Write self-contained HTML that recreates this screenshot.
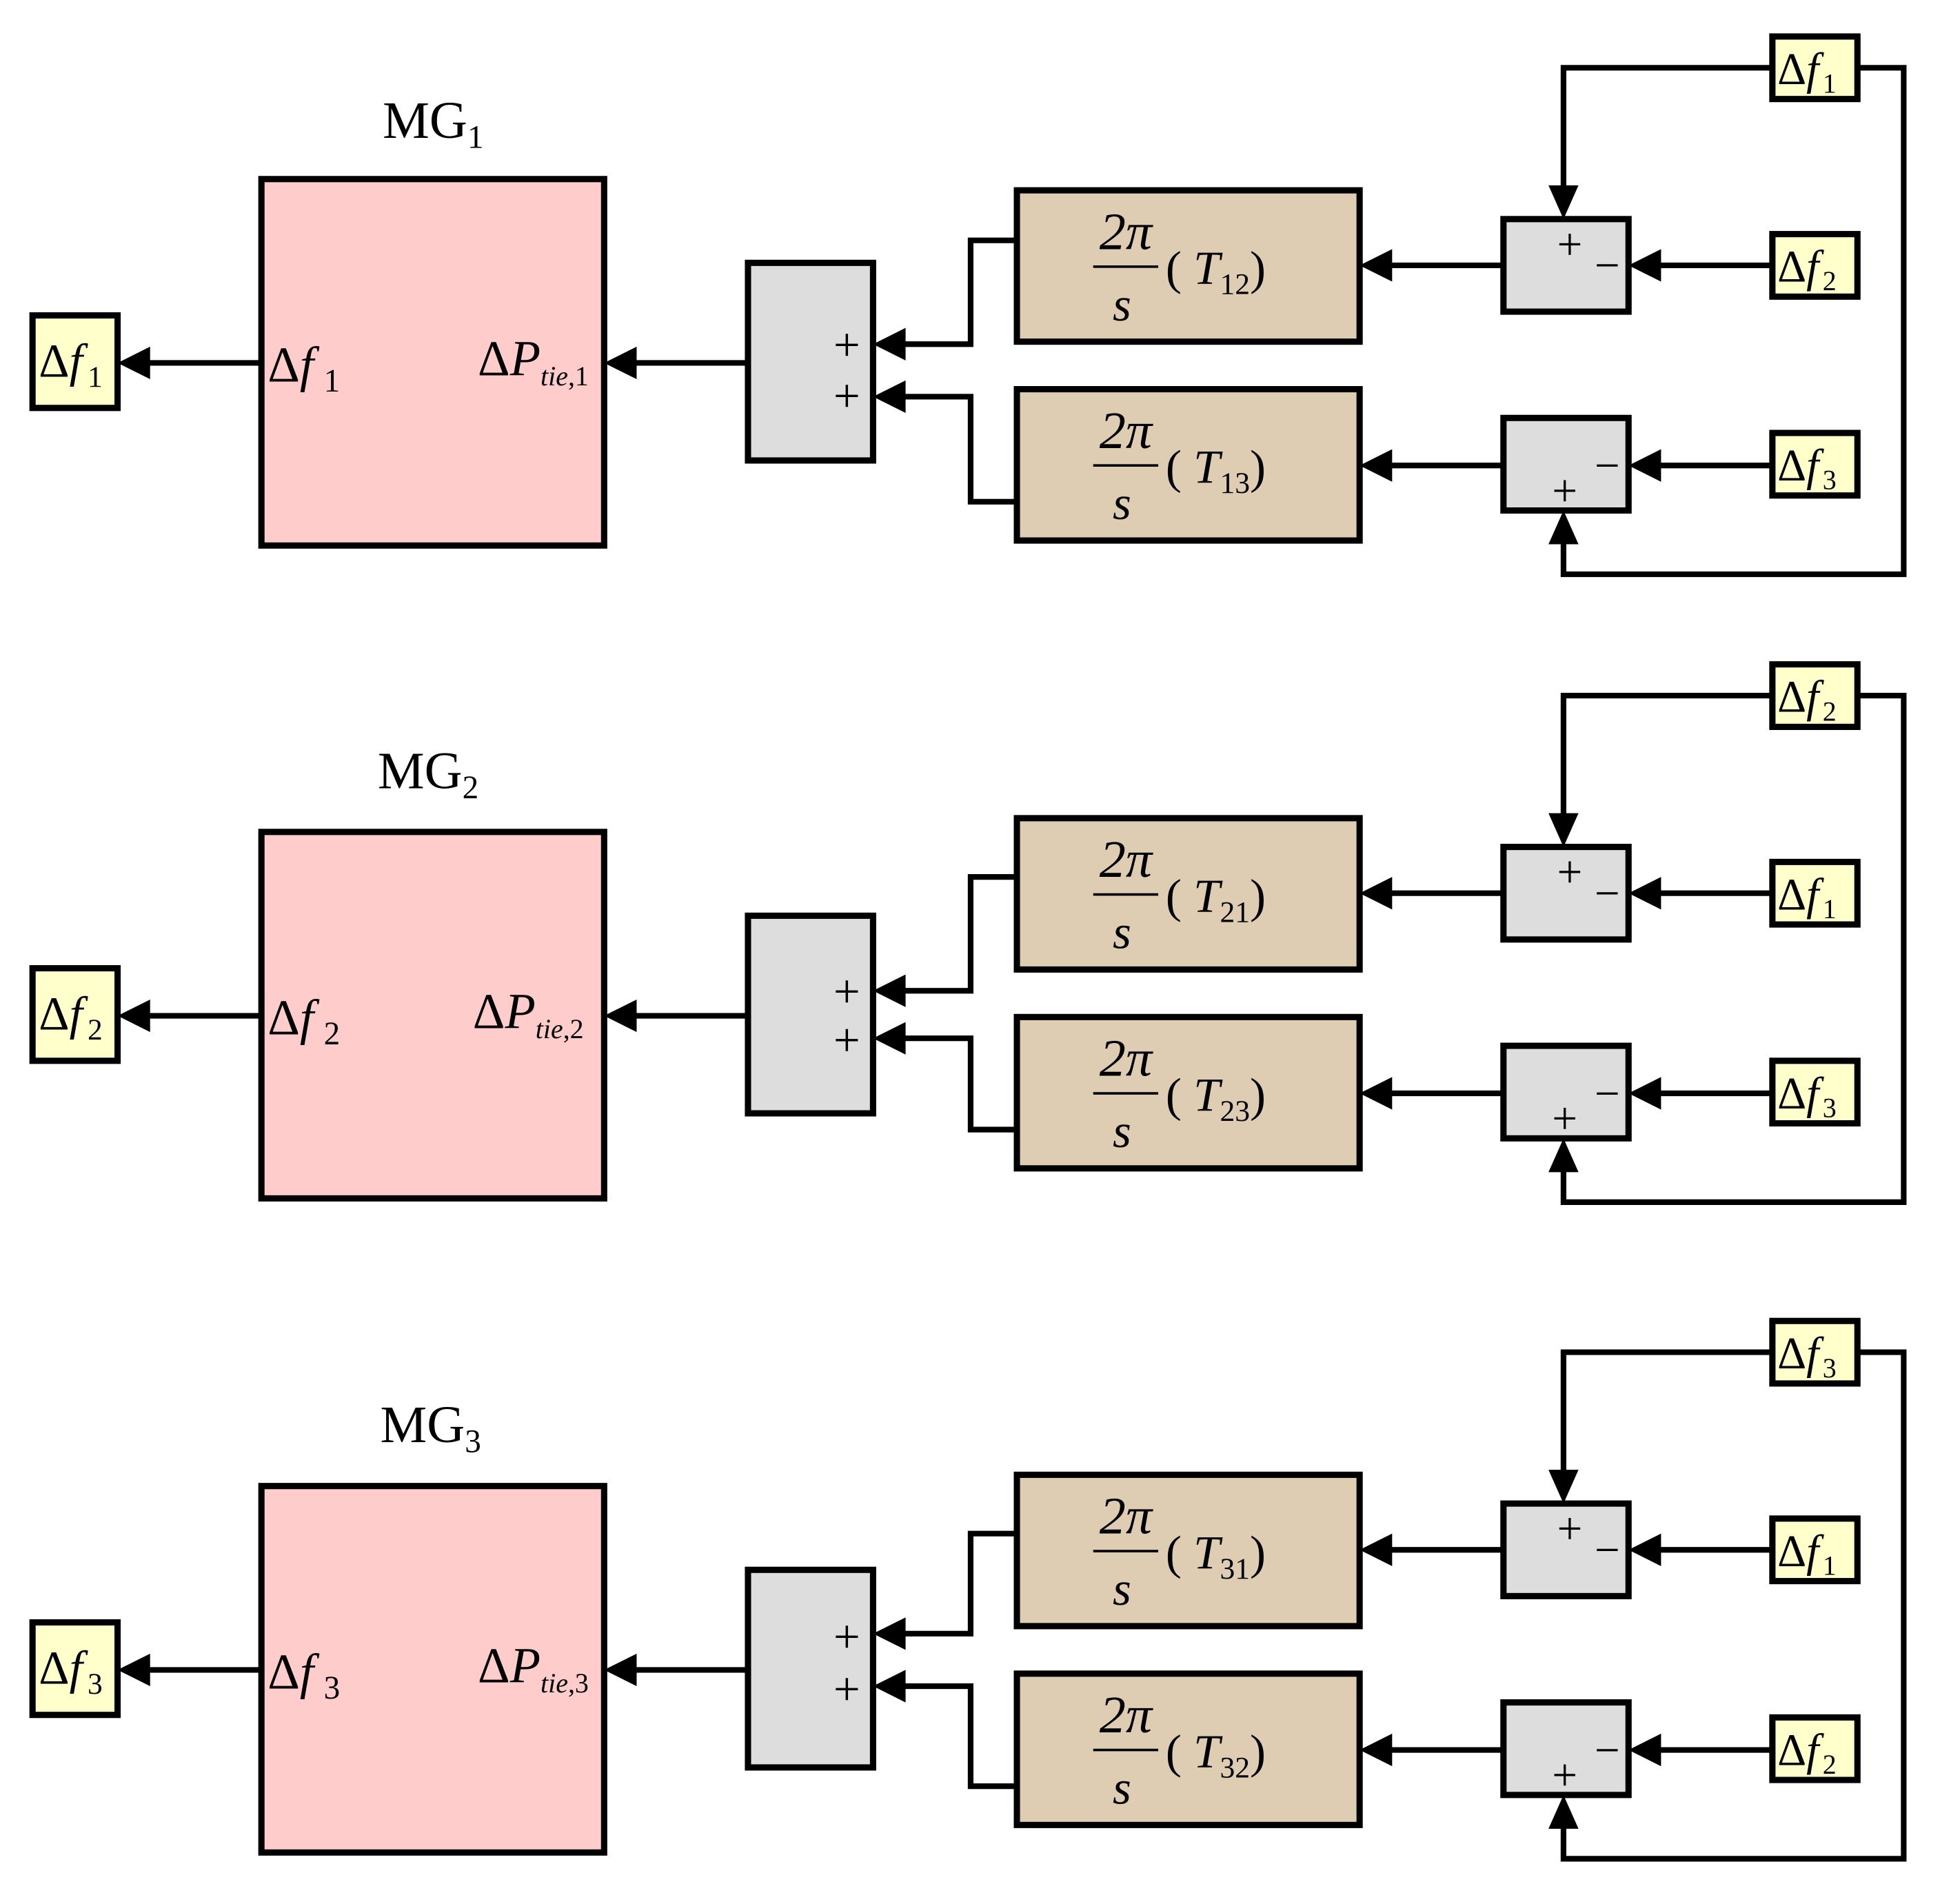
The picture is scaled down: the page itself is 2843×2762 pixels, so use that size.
<!DOCTYPE html>
<html><head><meta charset="utf-8"><style>
html,body{margin:0;padding:0;background:#fff;}
svg{display:block;}
text{font-family:"Liberation Serif",serif;fill:#000;}
.i{font-style:italic;}
</style></head><body>
<svg width="2843" height="2762" viewBox="0 0 1567 1522" xmlns="http://www.w3.org/2000/svg">
<defs>
<g id="left">
  <rect x="26" y="252" width="68" height="74" fill="#FFFFCC" stroke="#000" stroke-width="5"/>
  <line x1="209" y1="290" x2="112" y2="290" stroke="#000" stroke-width="4.5"/>
  <polygon points="94,290 120,277 120,303" fill="#000"/>
  <rect x="209" y="143" width="274" height="293" fill="#FFCCCC" stroke="#000" stroke-width="5"/>
  <line x1="598" y1="290" x2="500" y2="290" stroke="#000" stroke-width="4.5"/>
  <polygon points="483,290 509,277 509,303" fill="#000"/>
  <rect x="598" y="210" width="100" height="158" fill="#DDDDDD" stroke="#000" stroke-width="5"/>
</g>
<g id="right">
  <rect x="813" y="152" width="274" height="121" fill="#DFCDB3" stroke="#000" stroke-width="5"/>
  <rect x="813" y="311" width="274" height="121" fill="#DFCDB3" stroke="#000" stroke-width="5"/>
  <line x1="874" y1="213" x2="926" y2="213" stroke="#000" stroke-width="2"/>
  <line x1="874" y1="372" x2="926" y2="372" stroke="#000" stroke-width="2"/>
  <line x1="1202" y1="212" x2="1105" y2="212" stroke="#000" stroke-width="4.5"/>
  <polygon points="1087,212 1113,199 1113,225" fill="#000"/>
  <line x1="1202" y1="372" x2="1105" y2="372" stroke="#000" stroke-width="4.5"/>
  <polygon points="1087,372 1113,359 1113,385" fill="#000"/>
  <rect x="1202" y="175" width="100" height="74" fill="#DDDDDD" stroke="#000" stroke-width="5"/>
  <rect x="1202" y="334" width="100" height="74" fill="#DDDDDD" stroke="#000" stroke-width="5"/>
  <line x1="1417" y1="212" x2="1320" y2="212" stroke="#000" stroke-width="4.5"/>
  <polygon points="1302,212 1328,199 1328,225" fill="#000"/>
  <line x1="1417" y1="372" x2="1320" y2="372" stroke="#000" stroke-width="4.5"/>
  <polygon points="1302,372 1328,359 1328,385" fill="#000"/>
  <polyline points="1417,54 1250,54 1250,158" fill="none" stroke="#000" stroke-width="4.5"/>
  <polygon points="1250,175 1238,148 1262,148" fill="#000"/>
  <polyline points="1485,54 1522,54 1522,459 1250,459 1250,425" fill="none" stroke="#000" stroke-width="4.5"/>
  <polygon points="1250,408 1238,435 1262,435" fill="#000"/>
  <rect x="1417" y="29" width="68" height="50" fill="#FFFFCC" stroke="#000" stroke-width="5"/>
  <rect x="1417" y="187" width="68" height="50" fill="#FFFFCC" stroke="#000" stroke-width="5"/>
  <rect x="1417" y="346" width="68" height="50" fill="#FFFFCC" stroke="#000" stroke-width="5"/>
  <text x="1255" y="207" font-size="36" text-anchor="middle">+</text>
  <text x="1285" y="224" font-size="36" text-anchor="middle">−</text>
  <text x="1285" y="384" font-size="36" text-anchor="middle">−</text>
  <text x="1251" y="404" font-size="36" text-anchor="middle">+</text>
  <text x="900" y="199" font-size="42" text-anchor="middle" class="i">2π</text>
  <text x="897" y="256" font-size="38" text-anchor="middle" class="i">s</text>
  <text x="900" y="358" font-size="42" text-anchor="middle" class="i">2π</text>
  <text x="897" y="415" font-size="38" text-anchor="middle" class="i">s</text>
</g>
</defs>

<use href="#left"/>
<use href="#right"/>
<use href="#left" transform="translate(0,522)"/>
<use href="#right" transform="translate(0,502)"/>
<use href="#left" transform="translate(0,1045)"/>
<use href="#right" transform="translate(0,1027)"/>

<g fill="none" stroke="#000" stroke-width="4.5">
<polyline points="813,192 776,192 776,275 716,275"/>
<polyline points="813,401 776,401 776,317 716,317"/>
<polyline points="813,701 776,701 776,792 716,792"/>
<polyline points="813,903 776,903 776,830 716,830"/>
<polyline points="813,1226 776,1226 776,1306 716,1306"/>
<polyline points="813,1428 776,1428 776,1348 716,1348"/>
</g>
<g fill="#000">
<polygon points="698,275 724,262 724,288"/>
<polygon points="698,317 724,304 724,330"/>
<polygon points="698,792 724,779 724,805"/>
<polygon points="698,830 724,817 724,843"/>
<polygon points="698,1306 724,1293 724,1319"/>
<polygon points="698,1348 724,1335 724,1361"/>
</g>
<g font-size="38" text-anchor="middle">
<text x="677" y="288">+</text><text x="677" y="329">+</text>
<text x="677" y="805">+</text><text x="677" y="844">+</text>
<text x="677" y="1321">+</text><text x="677" y="1363">+</text>
</g>

<text x="306" y="110" font-size="42">MG<tspan font-size="26" dy="8">1</tspan></text>
<text x="302" y="630" font-size="42">MG<tspan font-size="26" dy="8">2</tspan></text>
<text x="304" y="1153" font-size="42">MG<tspan font-size="26" dy="8">3</tspan></text>

<text x="214" y="305" font-size="40">Δ<tspan class="i">f</tspan><tspan font-size="26" dx="8" dy="8">1</tspan></text>
<text x="382" y="300" font-size="40">Δ<tspan class="i">P</tspan><tspan font-size="22" class="i" dy="8">tie</tspan><tspan font-size="22">,1</tspan></text>
<text x="214" y="827" font-size="40">Δ<tspan class="i">f</tspan><tspan font-size="26" dx="8" dy="8">2</tspan></text>
<text x="378" y="822" font-size="40">Δ<tspan class="i">P</tspan><tspan font-size="22" class="i" dy="8">tie</tspan><tspan font-size="22">,2</tspan></text>
<text x="214" y="1350" font-size="40">Δ<tspan class="i">f</tspan><tspan font-size="26" dx="8" dy="8">3</tspan></text>
<text x="382" y="1345" font-size="40">Δ<tspan class="i">P</tspan><tspan font-size="22" class="i" dy="8">tie</tspan><tspan font-size="22">,3</tspan></text>

<g font-size="38">
<text x="31" y="301">Δ<tspan class="i">f</tspan><tspan font-size="24" dx="4" dy="8">1</tspan></text>
<text x="31" y="823">Δ<tspan class="i">f</tspan><tspan font-size="24" dx="4" dy="8">2</tspan></text>
<text x="31" y="1346">Δ<tspan class="i">f</tspan><tspan font-size="24" dx="4" dy="8">3</tspan></text>
</g>

<g font-size="36">
<text x="1421" y="67">Δ<tspan class="i">f</tspan><tspan font-size="22" dx="3" dy="7">1</tspan></text>
<text x="1421" y="225">Δ<tspan class="i">f</tspan><tspan font-size="22" dx="3" dy="7">2</tspan></text>
<text x="1421" y="384">Δ<tspan class="i">f</tspan><tspan font-size="22" dx="3" dy="7">3</tspan></text>
<text x="1421" y="569">Δ<tspan class="i">f</tspan><tspan font-size="22" dx="3" dy="7">2</tspan></text>
<text x="1421" y="727">Δ<tspan class="i">f</tspan><tspan font-size="22" dx="3" dy="7">1</tspan></text>
<text x="1421" y="886">Δ<tspan class="i">f</tspan><tspan font-size="22" dx="3" dy="7">3</tspan></text>
<text x="1421" y="1094">Δ<tspan class="i">f</tspan><tspan font-size="22" dx="3" dy="7">3</tspan></text>
<text x="1421" y="1252">Δ<tspan class="i">f</tspan><tspan font-size="22" dx="3" dy="7">1</tspan></text>
<text x="1421" y="1411">Δ<tspan class="i">f</tspan><tspan font-size="22" dx="3" dy="7">2</tspan></text>
</g>

<g font-size="38">
<text x="932" y="227">( <tspan class="i">T</tspan><tspan font-size="24" dy="8">12</tspan><tspan dy="-8">)</tspan></text>
<text x="932" y="386">( <tspan class="i">T</tspan><tspan font-size="24" dy="8">13</tspan><tspan dy="-8">)</tspan></text>
<text x="932" y="729">( <tspan class="i">T</tspan><tspan font-size="24" dy="8">21</tspan><tspan dy="-8">)</tspan></text>
<text x="932" y="888">( <tspan class="i">T</tspan><tspan font-size="24" dy="8">23</tspan><tspan dy="-8">)</tspan></text>
<text x="932" y="1254">( <tspan class="i">T</tspan><tspan font-size="24" dy="8">31</tspan><tspan dy="-8">)</tspan></text>
<text x="932" y="1413">( <tspan class="i">T</tspan><tspan font-size="24" dy="8">32</tspan><tspan dy="-8">)</tspan></text>
</g>
</svg>
</body></html>
